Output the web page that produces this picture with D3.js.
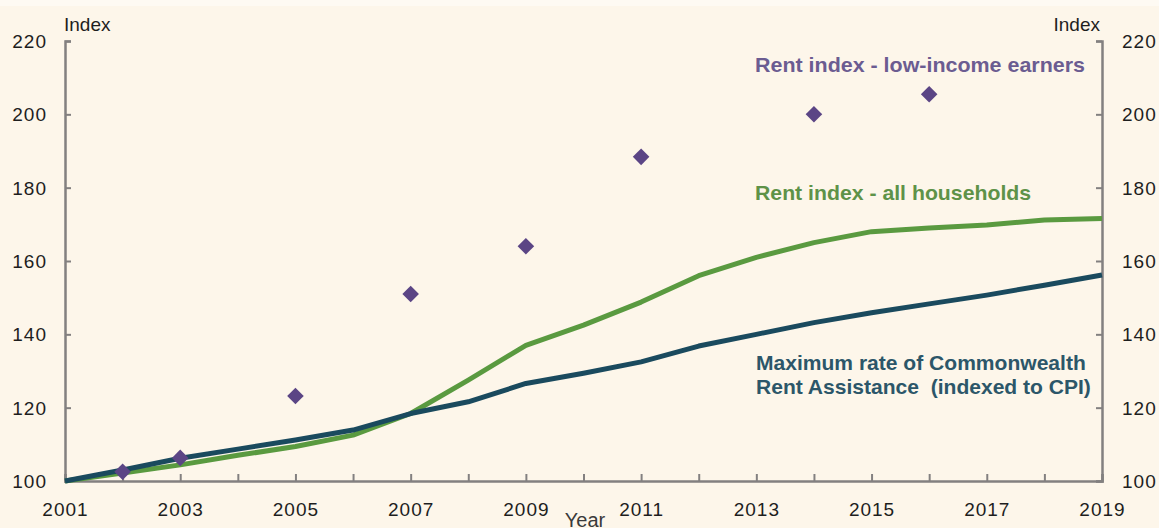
<!DOCTYPE html>
<html>
<head>
<meta charset="utf-8">
<script src="https://cdn.jsdelivr.net/npm/d3@7"></script>
<style>
  html, body { margin: 0; padding: 0; background: #fdf6ea; }
  svg { display: block; }
  text { font-family: "Liberation Sans", Arial, sans-serif; }
</style>
</head>
<body>
<svg id="chart" width="1159" height="528"></svg>
<script>
// Rent indices and Commonwealth Rent Assistance, 2001 = 100
const years = d3.range(2001, 2020);
const allHouseholds = [100, 102.2, 104.4, 107, 109.4, 112.5, 118.4, 127.5, 137, 142.5, 148.8, 156, 161, 165, 168, 169, 169.8, 171.2, 171.6];
const craMaxRate   = [100, 103, 106.2, 108.7, 111.2, 113.9, 118.4, 121.6, 126.6, 129.4, 132.5, 136.8, 140, 143.2, 145.9, 148.3, 150.7, 153.4, 156.2];
const lowIncomeYears = [2002, 2003, 2005, 2007, 2009, 2011, 2014, 2016];
const lowIncome      = [102.5, 106.3, 123.2, 151, 164, 188.4, 200, 205.5];
const yTicks = [100, 120, 140, 160, 180, 200, 220];
const xLabelYears = d3.range(2001, 2020, 2);

const svg = d3.select("#chart");
const W = 1159, H = 528;
const m = { left: 65, right: 57, top: 41, bottom: 47 };

svg.append("rect").attr("width", W).attr("height", H).attr("fill", "#fdf6ea");
svg.append("rect").attr("width", W).attr("height", 6).attr("fill", "#fefaf3");

const x = d3.scaleLinear().domain([2001, 2019]).range([m.left, W - m.right]);
const y = d3.scaleLinear().domain([100, 220]).range([H - m.bottom, m.top]);

const axisColor = "#838080";

// Left axis
const gl = svg.append("g").attr("transform", `translate(${m.left},0)`)
  .call(d3.axisLeft(y).tickValues(yTicks).tickSize(-6).tickPadding(18).tickFormat(d3.format("d")));
// Right axis
const gr = svg.append("g").attr("transform", `translate(${W - m.right},0)`)
  .call(d3.axisRight(y).tickValues(yTicks).tickSize(-6).tickPadding(20).tickFormat(d3.format("d")));
// Bottom axis
const gb = svg.append("g").attr("transform", `translate(0,${H - m.bottom})`)
  .call(d3.axisBottom(x).tickValues(years).tickSize(-7).tickPadding(28)
    .tickFormat(d => xLabelYears.includes(d) ? String(d) : ""));

[gl, gr, gb].forEach(g => {
  g.select(".domain").attr("stroke", axisColor).attr("stroke-width", 2.5);
  g.selectAll(".tick line").attr("stroke", axisColor).attr("stroke-width", 2);
  g.selectAll(".tick text").attr("fill", "#1e1e1e").style("font-size", "19px")
    .style("font-family", "\"Liberation Sans\", Arial, sans-serif").style("letter-spacing", "1px");
});
gb.selectAll(".tick text").attr("dy", "0.35em");
gl.selectAll(".tick text").attr("dy", "0.35em");
gr.selectAll(".tick text").attr("dy", "0.35em");

// Axis titles
svg.append("text").attr("x", m.left - 1).attr("y", 31).attr("font-size", 19).attr("fill", "#1e1e1e").text("Index");
svg.append("text").attr("x", W - m.right - 2).attr("y", 31).attr("text-anchor", "end").attr("font-size", 19).attr("fill", "#1e1e1e").text("Index");
svg.append("text").attr("x", 585).attr("y", 527).attr("text-anchor", "middle").attr("font-size", 20).attr("fill", "#3a3a3a").text("Year");

// Lines
const line = d3.line().x((d, i) => x(years[i])).y(d => y(d));
svg.append("path").datum(allHouseholds).attr("d", line)
  .attr("fill", "none").attr("stroke", "#5a9a40").attr("stroke-width", 5).attr("stroke-linejoin", "round");
svg.append("path").datum(craMaxRate).attr("d", line)
  .attr("fill", "none").attr("stroke", "#1a4a5e").attr("stroke-width", 5).attr("stroke-linejoin", "round");

// Low-income diamonds
svg.append("g").selectAll("path").data(lowIncome).join("path")
  .attr("transform", (d, i) => `translate(${x(lowIncomeYears[i])},${y(d)})`)
  .attr("d", d3.symbol(d3.symbolDiamond2, 175))
  .attr("fill", "#5b4585");

// Series labels (slightly widened bold text)
function seriesLabel(tx, ty, txt, color, sx) {
  svg.append("text")
    .attr("transform", `translate(${tx},${ty}) scale(${sx},1)`)
    .attr("font-size", 19.5).attr("font-weight", "bold")
    .attr("fill", color).attr("xml:space", "preserve").text(txt);
}
seriesLabel(755, 72, "Rent index - low-income earners", "#6b5c91", 1.1);
seriesLabel(755, 200, "Rent index - all households", "#5e9248", 1.09);
seriesLabel(756, 370, "Maximum rate of Commonwealth", "#2c5669", 1.08);
seriesLabel(756, 394, "Rent Assistance  (indexed to CPI)", "#2c5669", 1.08);
</script>
</body>
</html>
